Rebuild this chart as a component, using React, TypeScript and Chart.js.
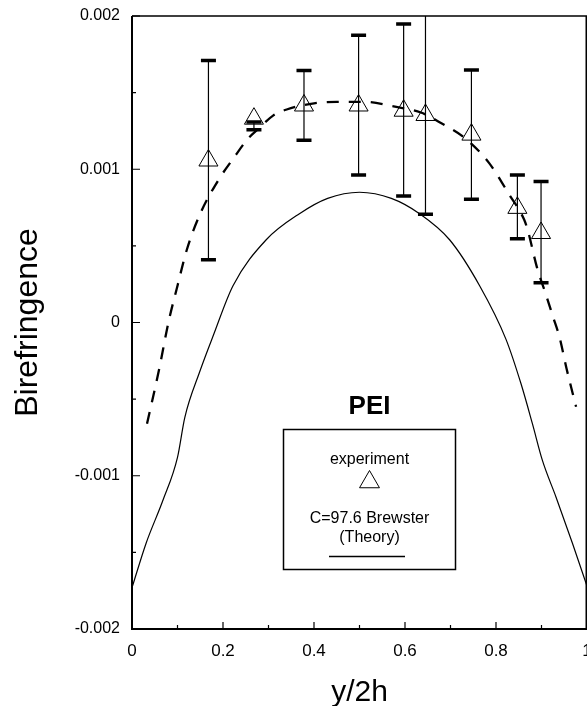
import React, { useEffect, useRef } from 'react';
import { Chart, registerables } from 'chart.js';

Chart.register(...registerables);

// Experimental points (triangles) with error bars
const expX = [0.168, 0.268, 0.378, 0.498, 0.597, 0.645, 0.746, 0.847, 0.899];
const expY = [0.001057, 0.00133, 0.001416, 0.001416, 0.001382, 0.001354, 0.001226, 0.000748, 0.000584];
const errLow = [0.00041, 0.001257, 0.00119, 0.000963, 0.000826, 0.000707, 0.000805, 0.000546, 0.00026];
const errHigh = [0.00171, 0.001309, 0.001644, 0.001875, 0.001947, 0.00202, 0.001648, 0.000963, 0.00092];

// Theory curve (C=97.6 Brewster)
const theoryX = [0, 0.031, 0.068, 0.1, 0.116, 0.149, 0.178, 0.222, 0.295, 0.368, 0.43, 0.5, 0.57, 0.632, 0.698, 0.764, 0.822, 0.855, 0.88, 0.902, 0.932, 0.968, 1.0];
const theoryY = [-0.00173, -0.00144, -0.00116, -0.00088, -0.00062, -0.00032, -0.00009, 0.00024, 0.00054, 0.00071, 0.00081, 0.00085, 0.00081, 0.00071, 0.00054, 0.00024, -0.00011, -0.0004, -0.00066, -0.0009, -0.00114, -0.00144, -0.00172];

// Dashed fit through the experimental data
const fitX = [0.033, 0.06, 0.08, 0.1, 0.12, 0.15, 0.19, 0.225, 0.255, 0.28, 0.31, 0.34, 0.4, 0.45, 0.51, 0.575, 0.635, 0.68, 0.733, 0.785, 0.83, 0.862, 0.87, 0.89, 0.91, 0.925, 0.94, 0.955, 0.976];
const fitY = [-0.00066, -0.0003, 0.0, 0.00024, 0.00047, 0.00071, 0.00093, 0.00108, 0.0012, 0.00127, 0.00135, 0.00139, 0.00143, 0.00144, 0.00144, 0.00141, 0.00137, 0.0013, 0.0012, 0.00104, 0.00083, 0.00067, 0.0006, 0.00036, 0.00018, 0.00004, -0.0001, -0.0003, -0.00055];

const xTitle = 'y/2h';
const yTitle = 'Birefringence';
const plotLabel = 'PEI';
const legendExp = 'experiment';
const legendTheory1 = 'C=97.6 Brewster';
const legendTheory2 = '(Theory)';

const FONT = "'Liberation Sans', Arial, Helvetica, sans-serif";

const toPts = (xs: number[], ys: number[]) => xs.map((x, i) => ({ x, y: ys[i] }));

const decorPlugin = {
  id: 'decor',
  beforeDatasetsDraw(chart: any) {
    const { ctx, chartArea: a, scales } = chart;
    const xs = scales.x;
    const ys = scales.y;
    ctx.save();
    ctx.beginPath();
    ctx.rect(a.left, a.top, a.right - a.left, a.bottom - a.top);
    ctx.clip();
    ctx.strokeStyle = '#000';
    expX.forEach((v, i) => {
      const px = xs.getPixelForValue(v);
      const lo = ys.getPixelForValue(errLow[i]);
      const hi = ys.getPixelForValue(errHigh[i]);
      ctx.lineWidth = 1.2;
      ctx.beginPath();
      ctx.moveTo(px, lo);
      ctx.lineTo(px, hi);
      ctx.stroke();
      ctx.lineWidth = 3.5;
      ctx.beginPath();
      ctx.moveTo(px - 7.5, lo);
      ctx.lineTo(px + 7.5, lo);
      ctx.moveTo(px - 7.5, hi);
      ctx.lineTo(px + 7.5, hi);
      ctx.stroke();
    });
    ctx.restore();
  },
  afterDraw(chart: any) {
    const { ctx, chartArea: a, scales } = chart;
    const xs = scales.x;
    const ys = scales.y;
    ctx.save();
    ctx.strokeStyle = '#000';
    // frame
    ctx.lineWidth = 1.5;
    ctx.beginPath();
    ctx.moveTo(a.left, a.top);
    ctx.lineTo(a.right - 0.75, a.top);
    ctx.lineTo(a.right - 0.75, a.bottom);
    ctx.stroke();
    ctx.lineWidth = 2;
    ctx.beginPath();
    ctx.moveTo(a.left, a.top);
    ctx.lineTo(a.left, a.bottom);
    ctx.lineTo(a.right, a.bottom);
    ctx.stroke();
    // inward ticks
    ctx.lineWidth = 1.2;
    const xv = xs.ticks.map((t: any) => t.value);
    const yv = ys.ticks.map((t: any) => t.value);
    ctx.beginPath();
    xv.forEach((v: number, i: number) => {
      const p = xs.getPixelForValue(v);
      ctx.moveTo(p, a.bottom);
      ctx.lineTo(p, a.bottom - 7);
      if (i < xv.length - 1) {
        const m = xs.getPixelForValue((v + xv[i + 1]) / 2);
        ctx.moveTo(m, a.bottom);
        ctx.lineTo(m, a.bottom - 4);
      }
    });
    yv.forEach((v: number, i: number) => {
      const p = ys.getPixelForValue(v);
      ctx.moveTo(a.left, p);
      ctx.lineTo(a.left + 8, p);
      if (i < yv.length - 1) {
        const m = ys.getPixelForValue((v + yv[i + 1]) / 2);
        ctx.moveTo(a.left, m);
        ctx.lineTo(a.left + 4, m);
      }
    });
    ctx.stroke();

    // plot label + legend box
    const cx = 369.5;
    ctx.fillStyle = '#000';
    ctx.textAlign = 'center';
    ctx.textBaseline = 'middle';
    ctx.font = `bold 26px ${FONT}`;
    ctx.fillText(plotLabel, cx, 407);

    ctx.fillStyle = '#fff';
    ctx.fillRect(283.5, 429.5, 172, 140);
    ctx.lineWidth = 1.5;
    ctx.strokeRect(283.5, 429.5, 172, 140);

    ctx.fillStyle = '#000';
    ctx.textBaseline = 'alphabetic';
    ctx.font = `16px ${FONT}`;
    ctx.fillText(legendExp, cx, 464);
    ctx.fillText(legendTheory1, cx, 522.5);
    ctx.fillText(legendTheory2, cx, 542);

    // legend triangle
    const r = 11.5;
    const ty = 482;
    ctx.lineWidth = 1;
    ctx.beginPath();
    for (let k = 0; k < 3; k++) {
      const ang = (k * 2 * Math.PI) / 3;
      const px = cx + Math.sin(ang) * r;
      const py = ty - Math.cos(ang) * r;
      if (k === 0) ctx.moveTo(px, py);
      else ctx.lineTo(px, py);
    }
    ctx.closePath();
    ctx.stroke();

    // legend line
    ctx.lineWidth = 1.3;
    ctx.beginPath();
    ctx.moveTo(329, 556.5);
    ctx.lineTo(405, 556.5);
    ctx.stroke();
    ctx.restore();
  },
};

export default function App() {
  const ref = useRef<HTMLCanvasElement | null>(null);

  useEffect(() => {
    if (!ref.current) return;
    Chart.defaults.font.family = FONT;
    Chart.defaults.color = '#000';
    const chart = new Chart(ref.current, {
      type: 'scatter',
      data: {
        datasets: [
          {
            label: 'C=97.6 Brewster (Theory)',
            data: toPts(theoryX, theoryY),
            showLine: true,
            borderColor: '#000',
            borderWidth: 1.2,
            pointRadius: 0,
            cubicInterpolationMode: 'monotone',
          },
          {
            label: 'fit',
            data: toPts(fitX, fitY),
            showLine: true,
            borderColor: '#000',
            borderWidth: 2.3,
            borderDash: [12, 10],
            pointRadius: 0,
            cubicInterpolationMode: 'monotone',
          },
          {
            label: 'experiment',
            data: toPts(expX, expY),
            showLine: false,
            pointStyle: 'triangle',
            pointRadius: 11,
            pointBorderWidth: 1,
            pointBorderColor: '#000',
            pointBackgroundColor: 'rgba(0,0,0,0)',
          },
        ],
      },
      options: {
        animation: false,
        responsive: false,
        events: [],
        layout: { autoPadding: false, padding: { top: 16, left: 0, right: 0, bottom: 0 } },
        plugins: {
          legend: { display: false },
          tooltip: { enabled: false },
        },
        scales: {
          x: {
            type: 'linear',
            position: 'bottom',
            min: 0,
            max: 1,
            grid: { display: false, drawTicks: false },
            border: { display: false },
            ticks: {
              stepSize: 0.2,
              padding: 12,
              font: { size: 17, family: FONT },
              color: '#000',
              callback: (v: any) => String(Number(Number(v).toFixed(1))),
            },
            title: {
              display: true,
              text: xTitle,
              font: { size: 30, family: FONT, lineHeight: 1 },
              color: '#000',
              padding: { top: 0, bottom: -2 },
            },
            afterFit: (s: any) => {
              s.height = 77;
              s.paddingLeft = 0;
              s.paddingRight = 0;
            },
          },
          y: {
            type: 'linear',
            min: -0.002,
            max: 0.002,
            grid: { display: false, drawTicks: false },
            border: { display: false },
            ticks: {
              stepSize: 0.001,
              padding: 12,
              font: { size: 16, family: FONT },
              color: '#000',
              callback: (v: any) => (Math.abs(Number(v)) < 1e-9 ? '0' : Number(v).toFixed(3)),
            },
            title: {
              display: true,
              text: yTitle,
              font: { size: 32, family: FONT },
              color: '#000',
              padding: { top: 9, bottom: 0 },
            },
            afterFit: (s: any) => {
              s.width = 132;
              s.paddingTop = 0;
              s.paddingBottom = 0;
            },
          },
        },
      },
      plugins: [decorPlugin],
    } as any);
    return () => chart.destroy();
  }, []);

  return (
    <div style={{ position: 'fixed', left: 0, top: 0, width: 587, height: 706, overflow: 'hidden', background: '#fff' }}>
      <canvas ref={ref} width={587} height={706} style={{ display: 'block' }} />
    </div>
  );
}
